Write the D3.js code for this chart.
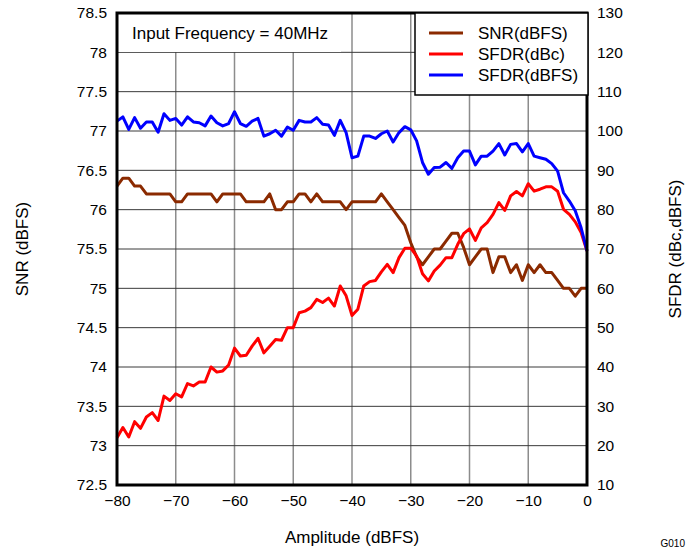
<!DOCTYPE html>
<html>
<head>
<meta charset="utf-8">
<script src="https://cdn.jsdelivr.net/npm/d3@7"></script>
<style>
  body { margin: 0; background: #fff; }
  svg { display: block; font-family: "Liberation Sans", Arial, sans-serif; }
</style>
</head>
<body>
<div id="chart"></div>
<script>
// Amplitude sweep, 1 dB steps from -80 to 0
const amplitude = d3.range(-80, 1, 1);

// SNR (dBFS), left axis
const snr = [
  76.3, 76.4, 76.4, 76.3, 76.3, 76.2, 76.2, 76.2, 76.2, 76.2,
  76.1, 76.1, 76.2, 76.2, 76.2, 76.2, 76.2, 76.1, 76.2, 76.2,
  76.2, 76.2, 76.1, 76.1, 76.1, 76.1, 76.2, 76.0, 76.0, 76.1,
  76.1, 76.2, 76.2, 76.1, 76.2, 76.1, 76.1, 76.1, 76.1, 76.0,
  76.1, 76.1, 76.1, 76.1, 76.1, 76.2, 76.1, 76.0, 75.9, 75.8,
  75.58, 75.4, 75.3, 75.4, 75.5, 75.5, 75.6, 75.7, 75.7, 75.52,
  75.3, 75.4, 75.5, 75.5, 75.2, 75.4, 75.4, 75.2, 75.3, 75.1,
  75.3, 75.2, 75.3, 75.2, 75.2, 75.1, 75.0, 75.0, 74.9, 75.0,
  75.0
];

// SFDR (dBc), right axis
const sfdrDbc = [
  22.0, 24.6, 22.2, 26.1, 24.4, 27.3, 28.4, 26.4, 32.6, 31.5,
  33.2, 32.4, 35.8, 35.2, 36.2, 36.2, 40.0, 38.7, 39.0, 40.5,
  44.8, 42.8, 43.0, 45.3, 47.3, 43.6, 45.3, 47.0, 46.8, 50.0,
  50.0, 53.8, 54.2, 55.1, 57.2, 56.4, 57.5, 55.5, 60.6, 58.1,
  53.1, 54.7, 60.6, 61.7, 62.0, 64.2, 66.1, 64.0, 67.8, 70.2,
  70.2, 68.2, 63.7, 61.9, 64.4, 65.9, 67.8, 67.8, 71.2, 73.9,
  75.1, 72.2, 75.4, 76.7, 78.8, 81.8, 79.8, 83.5, 84.6, 83.5,
  86.6, 84.7, 85.2, 85.8, 85.8, 84.7, 80.1, 78.8, 76.9, 74.2,
  69.5
];

// SFDR (dBFS), right axis
const sfdrDbfs = [
  102.5, 103.6, 100.4, 103.4, 100.7, 102.3, 102.3, 99.7, 104.4, 102.7,
  103.2, 101.5, 103.6, 102.3, 102.1, 101.3, 103.8, 102.1, 101.3, 101.9,
  104.9, 101.9, 101.2, 102.5, 103.2, 98.7, 99.3, 100.2, 98.7, 101.0,
  100.2, 102.7, 102.3, 102.3, 103.4, 101.7, 101.5, 98.9, 102.7, 99.6,
  93.2, 93.6, 98.7, 98.7, 98.1, 99.3, 100.0, 97.2, 99.6, 101.1,
  100.3, 97.5, 92.0, 89.0, 90.7, 90.8, 92.0, 90.5, 93.2, 94.9,
  94.9, 91.4, 93.6, 93.6, 94.9, 96.8, 93.9, 96.6, 96.8, 94.7,
  96.8, 93.6, 93.2, 92.8, 91.7, 89.8, 84.3, 82.2, 79.7, 75.4,
  69.5
];

const xTicks = [-80, -70, -60, -50, -40, -30, -20, -10, 0];
const snrTicks = [72.5, 73, 73.5, 74, 74.5, 75, 75.5, 76, 76.5, 77, 77.5, 78, 78.5];
const sfdrTicks = [10, 20, 30, 40, 50, 60, 70, 80, 90, 100, 110, 120, 130];

const seriesNames = ["SNR(dBFS)", "SFDR(dBc)", "SFDR(dBFS)"];
const seriesColors = ["#8b2a00", "#ff0000", "#0000ff"];

const W = 694, H = 549;
const margin = {top: 13, right: 107, bottom: 64, left: 117};
const width = W - margin.left - margin.right;
const height = H - margin.top - margin.bottom;

const svg = d3.select("#chart").append("svg")
    .attr("width", W)
    .attr("height", H);

const g = svg.append("g")
    .attr("transform", `translate(${margin.left},${margin.top})`);

const x = d3.scaleLinear().domain([-80, 0]).range([0, width]);
const yL = d3.scaleLinear().domain([72.5, 78.5]).range([height, 0]);
const yR = d3.scaleLinear().domain([10, 130]).range([height, 0]);

// grid
g.append("g")
    .selectAll("line")
    .data(xTicks.slice(1, -1))
    .join("line")
    .attr("x1", d => x(d)).attr("x2", d => x(d))
    .attr("y1", 0).attr("y2", height)
    .attr("stroke", "#8c8c8c")
    .attr("stroke-width", 1.5);

g.append("g")
    .selectAll("line")
    .data(snrTicks.slice(1, -1))
    .join("line")
    .attr("x1", 0).attr("x2", width)
    .attr("y1", d => yL(d)).attr("y2", d => yL(d))
    .attr("stroke", "#3a3a3a")
    .attr("stroke-width", 1);

// white box behind the annotation
g.append("rect")
    .attr("x", 0).attr("y", 0)
    .attr("width", 224).attr("height", 39)
    .attr("fill", "#fff");

g.append("text")
    .attr("x", 15).attr("y", 26)
    .attr("font-size", 17)
    .text("Input Frequency = 40MHz");

// lines
const lineL = d3.line().x((d, i) => x(amplitude[i])).y(d => yL(d));
const lineR = d3.line().x((d, i) => x(amplitude[i])).y(d => yR(d));

[[snr, lineL], [sfdrDbc, lineR], [sfdrDbfs, lineR]].forEach(([vals, gen], i) => {
    g.append("path")
        .datum(vals)
        .attr("fill", "none")
        .attr("stroke", seriesColors[i])
        .attr("stroke-width", 3)
        .attr("stroke-linejoin", "round")
        .attr("d", gen);
});

// frame
g.append("rect")
    .attr("width", width).attr("height", height)
    .attr("fill", "none")
    .attr("stroke", "#000")
    .attr("stroke-width", 3);

// axes
const xAxis = g.append("g")
    .attr("transform", `translate(0,${height})`)
    .call(d3.axisBottom(x).tickValues(xTicks).tickSize(0).tickPadding(10));
const leftAxis = g.append("g")
    .call(d3.axisLeft(yL).tickValues(snrTicks).tickSize(0).tickPadding(10).tickFormat(d3.format("")));
const rightAxis = g.append("g")
    .attr("transform", `translate(${width},0)`)
    .call(d3.axisRight(yR).tickValues(sfdrTicks).tickSize(0).tickPadding(10));

[xAxis, leftAxis, rightAxis].forEach(a => {
    a.select(".domain").remove();
    a.selectAll("text").attr("font-size", 15.5).attr("fill", "#000")
        .attr("font-family", "Liberation Sans, Arial, sans-serif");
});

// legend
const legend = g.append("g").attr("transform", `translate(${298},0)`);
legend.append("rect")
    .attr("width", 173).attr("height", 82)
    .attr("fill", "#fff")
    .attr("stroke", "#000")
    .attr("stroke-width", 1.5);
seriesNames.forEach((name, i) => {
    legend.append("line")
        .attr("x1", 14).attr("x2", 48)
        .attr("y1", 20 + i * 21).attr("y2", 20 + i * 21)
        .attr("stroke", seriesColors[i])
        .attr("stroke-width", 3);
    legend.append("text")
        .attr("x", 63).attr("y", 20 + i * 21)
        .attr("dy", "0.35em")
        .attr("font-size", 17)
        .text(name);
});

// axis titles
svg.append("text")
    .attr("x", margin.left + width / 2).attr("y", 543)
    .attr("text-anchor", "middle")
    .attr("font-size", 17)
    .text("Amplitude (dBFS)");

svg.append("text")
    .attr("transform", `translate(28,${margin.top + height / 2}) rotate(-90)`)
    .attr("text-anchor", "middle")
    .attr("font-size", 17)
    .text("SNR (dBFS)");

svg.append("text")
    .attr("transform", `translate(681,${margin.top + height / 2}) rotate(-90)`)
    .attr("text-anchor", "middle")
    .attr("font-size", 17)
    .text("SFDR (dBc,dBFS)");

svg.append("text")
    .attr("x", 685).attr("y", 547)
    .attr("text-anchor", "end")
    .attr("font-size", 10)
    .text("G010");
</script>
</body>
</html>
